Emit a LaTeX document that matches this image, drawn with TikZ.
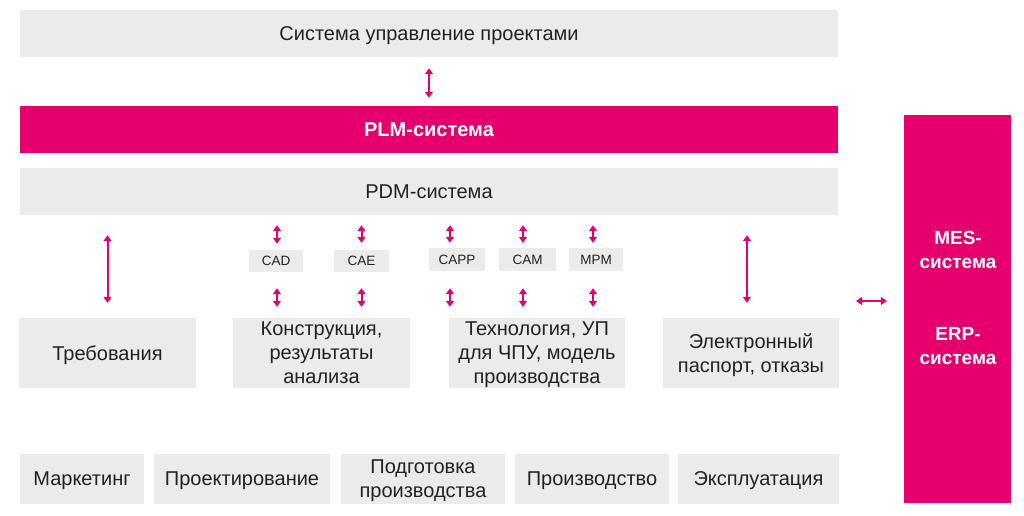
\documentclass[tikz,border=0pt]{standalone}
\usepackage{fontspec}
\setmainfont{Liberation Sans}
\usetikzlibrary{arrows.meta}
\definecolor{mag}{RGB}{229,0,110}
\definecolor{gbg}{RGB}{235,235,235}
\definecolor{txt}{RGB}{34,34,34}
\begin{document}
\begin{tikzpicture}[x=1pt,y=-1pt,
  gbox/.style={fill=gbg,draw=none,inner sep=0pt,text=txt,font=\fontsize{20}{24}\selectfont,align=center,text depth=0pt},
  mbox/.style={fill=mag,draw=none,inner sep=0pt,text=white,font=\bfseries\fontsize{20}{24}\selectfont,align=center,text depth=0pt},
  sbox/.style={fill=gbg,draw=none,inner sep=0pt,text=txt,font=\fontsize{13.5}{15}\selectfont},
  arr/.style={draw=mag,line width=2pt,{Triangle[width=8pt,length=6pt]}-{Triangle[width=8pt,length=6pt]}}]
\useasboundingbox (0,0) rectangle (1024,515);
% bars
\node[gbox,minimum width=818,minimum height=47] (pm) at (429,33.5) {Система управление проектами};
\node[mbox,minimum width=818,minimum height=47] (plm) at (429,129.5) {PLM-система};
\node[gbox,minimum width=818,minimum height=47] (pdm) at (429,191.5) {PDM-система};
\node[mbox,minimum width=107,minimum height=388,align=center] (mes) at (957.5,309) {};
\node[text=white,font=\bfseries\fontsize{19}{24}\selectfont,align=center] (mest) at (958,250) {MES-\\система};
\node[text=white,font=\bfseries\fontsize{19}{24}\selectfont,align=center] (erpt) at (958,346) {ERP-\\система};
% small boxes
\node[sbox,minimum width=54,minimum height=22] (cad) at (276,261) {CAD};
\node[sbox,minimum width=55,minimum height=22] (cae) at (361.5,261) {CAE};
\node[sbox,minimum width=56,minimum height=23] (capp) at (457,259.5) {CAPP};
\node[sbox,minimum width=57,minimum height=23] (cam) at (527.5,259.5) {CAM};
\node[sbox,minimum width=54,minimum height=23] (mpm) at (596,259.5) {MPM};
% middle boxes
\node[gbox,minimum width=177,minimum height=70] (treb) at (107.5,353) {Требования};
\node[gbox,minimum width=177,minimum height=70] (kon) at (321.5,353) {Конструкция,\\результаты\\анализа};
\node[gbox,minimum width=176,minimum height=70] (tech) at (537,353) {Технология, УП\\для ЧПУ, модель\\производства};
\node[gbox,minimum width=176,minimum height=70] (elec) at (751,353) {Электронный\\паспорт, отказы};
% bottom boxes
\node[gbox,minimum width=124,minimum height=50] (mark) at (82,479) {Маркетинг};
\node[gbox,minimum width=176,minimum height=50] (proj) at (242,479) {Проектирование};
\node[gbox,minimum width=164,minimum height=50] (podg) at (423,479) {Подготовка\\производства};
\node[gbox,minimum width=154,minimum height=50] (proiz) at (592,479) {Производство};
\node[gbox,minimum width=161,minimum height=50] (expl) at (758.5,479) {Эксплуатация};
% arrows
\draw[arr,shorten <=11pt,shorten >=8pt] (pm.south) -- (plm.north);
\draw[arr,shorten <=20pt,shorten >=15pt] (treb.north |- pdm.south) -- (treb.north);
\draw[arr,shorten <=20pt,shorten >=15pt] ([xshift=-4pt]elec.north |- pdm.south) -- ([xshift=-4pt]elec.north);
\draw[arr,shorten <=10pt,shorten >=6pt] ([xshift=1pt]cad.north |- pdm.south) -- ([xshift=1pt]cad.north);
\draw[arr,shorten <=10pt,shorten >=7pt] (cae.north |- pdm.south) -- (cae.north);
\draw[arr,shorten <=10pt,shorten >=5pt] ([xshift=-7pt]capp.north |- pdm.south) -- ([xshift=-7pt]capp.north);
\draw[arr,shorten <=10pt,shorten >=5pt] ([xshift=-4.5pt]cam.north |- pdm.south) -- ([xshift=-4.5pt]cam.north);
\draw[arr,shorten <=10pt,shorten >=5pt] ([xshift=-3pt]mpm.north |- pdm.south) -- ([xshift=-3pt]mpm.north);
\draw[arr,shorten <=16pt,shorten >=11pt] ([xshift=1pt]cad.south) -- ([xshift=1pt]cad.south |- kon.north);
\draw[arr,shorten <=16pt,shorten >=11pt] (cae.south) -- (cae.south |- kon.north);
\draw[arr,shorten <=17pt,shorten >=11pt] ([xshift=-7pt]capp.south) -- ([xshift=-7pt]capp.south |- tech.north);
\draw[arr,shorten <=17pt,shorten >=11pt] ([xshift=-4.5pt]cam.south) -- ([xshift=-4.5pt]cam.south |- tech.north);
\draw[arr,shorten <=17pt,shorten >=11pt] ([xshift=-3pt]mpm.south) -- ([xshift=-3pt]mpm.south |- tech.north);
\coordinate (hl) at (856,301);
\draw[arr,line width=1.6pt,shorten >=17pt] (hl) -- (hl -| mes.west);
\end{tikzpicture}
\end{document}
